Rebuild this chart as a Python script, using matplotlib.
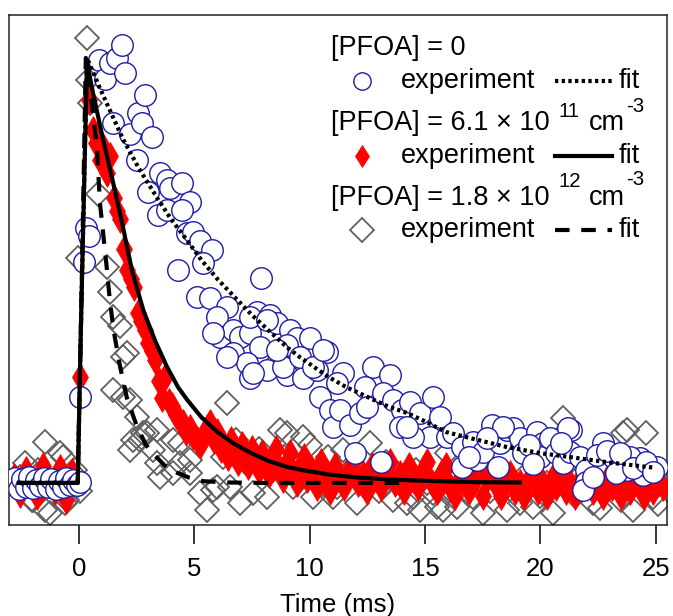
import matplotlib
matplotlib.use('Agg')
import matplotlib.pyplot as plt
from matplotlib.lines import Line2D

plt.rcParams['font.family'] = ['Liberation Sans', 'DejaVu Sans']

# [PFOA] = 0 : open circles (time in ms, signal in arb. units, peak ~100)
blue_t = [-2.75, -2.6, -2.45, -2.3, -2.15, -2.0, -1.85, -1.7, -1.5, -1.35, -1.2, -1.0, -0.85, -0.7, -0.55, -0.4, -0.25, -0.1, 0.05,
          0.04, 0.2, 0.3, 0.45,
          0.85, 1.15, 1.34, 1.65, 1.86, 2.0, 1.47, 2.2, 2.57, 2.73, 2.86, 3.16, 2.5, 3.0, 3.5, 3.8, 3.94, 4.46, 4.8, 3.44, 3.8, 4.46,
          4.7, 4.94, 5.24, 5.75, 5.4, 4.3, 7.9, 5.11, 5.68, 6.4, 5.98, 6.1, 6.7, 6.98, 7.4, 7.7, 8.28, 8.58, 7.85, 6.68, 7.28,
          9.15, 9.45, 10.0, 10.75, 9.0, 8.58, 9.45, 8.15, 7.41, 9.0, 9.7, 10.3, 11.45, 12.75, 5.8, 6.4, 7.54, 8.84, 9.58, 10.15,
          10.58, 10.45, 10.88, 11.0, 7.41, 8.15, 8.58, 11.2, 12.4, 13.5, 11.3, 11.75, 12.2, 12.5, 13.2, 13.6, 14.0, 14.35, 14.8,
          15.35, 15.65, 15.2, 15.95, 13.9, 14.5, 11.96, 13.1, 14.2, 16.2, 16.6, 16.6, 17.1, 17.25, 17.5, 17.9, 18.15, 18.25,
          18.55, 18.8, 19.1, 19.25, 19.85, 20.1, 20.0, 20.4, 20.7, 21.0, 21.35, 21.3, 21.7, 22.0, 22.0, 21.85, 22.3, 22.7, 22.45,
          23.15, 23.6, 23.75, 24.2, 24.45, 24.75, 25.05, 23.3, 24.3, 21.2, 23.9, 18.4, 16.9, 17.7, 19.5, 20.9, 22.9, 23.45, 24.0,
          24.6, 24.9, 19.7]
blue_s = [1.2, -1.5, 1.0, -1.0, 1.5, -1.2, 0.8, -0.8, 1.2, -1.0, 1.0, -1.5, 0.5, -1.0, 1.2, -0.5, 0.8, -0.5, 0.2,
          20.2, 52, 60, 58,
          99.5, 95, 98.8, 100, 103, 96.5, 84.7, 82, 87, 84.7, 91.3, 81.4, 76, 68.5, 73, 71.3, 69.4, 70.6, 66, 63, 64.2, 64.2,
          58.8, 59, 57, 54.8, 51.8, 50, 48.2, 43.8, 43.5, 41.4, 39, 34.4, 36, 34.4, 35.3, 40.2, 39.5, 37.6, 32, 30.6, 28.2,
          36, 34, 34, 30.8, 32.5, 28.2, 28.2, 26.6, 24.7, 25.4, 24.7, 26.6, 25.9, 27.3, 35.3, 29.6, 25.9, 27.3, 29.6, 27.3,
          31.3, 20.2, 17.2, 13.2, 39, 38.4, 31.3, 23.5, 22.6, 25.4, 17.2, 13.6, 16.5, 17.9, 21.2, 19.5, 17.2, 19, 16.5,
          20.2, 15.5, 10.8, 10.8, 13.2, 10.8, 7, 4.9, 13.2, 11.8, 8.5, 3.8, 9.6, 5.4, 7.3, 13.6, 3.8, 9.4,
          12.5, 12.9, 10.6, 7, 12, 9.4, 6.1, 10.6, 7, 4.7, 12.5, 7.3, 6.1, 3.1, 0.2, -1.6, 1.4, 9.4, 6.6,
          6.1, 4.9, 3.1, 4.7, 1.9, 3.5, 3.8, 2.4, 5.9, 13, 6.1, 13.2, 6, 10.5, 9, 9.5, 7.5, 7, 3.5,
          5, 2.5, 4.5]

# [PFOA] = 6.1e11 : filled red diamonds
red_t = [-2.8, -2.55, -2.3, -2.05, -1.8, -1.55, -1.3, -1.05, -0.8, -0.55, -0.3, -0.05,
         0.05, 0.45, 0.6, 0.75, 0.9, 1.05, 1.2, 1.35, 1.5, 1.65, 1.8, 1.95, 2.1, 2.25, 2.4, 2.55, 2.7, 2.85, 3.0, 3.15,
         3.3, 3.45, 3.6, 3.75, 3.9, 4.05, 4.2, 4.35, 4.5, 4.65, 4.8, 4.95, 5.1, 5.25, 5.4, 5.55, 5.7, 5.85, 6.0, 6.15,
         6.3, 6.45, 6.6, 6.75, 6.9, 7.05, 7.2, 7.35, 7.5, 7.65, 7.8, 7.95, 8.1, 8.25, 8.4, 8.55, 8.7, 8.85, 9.0, 9.15,
         9.3, 9.45, 9.6, 9.75, 9.9, 10.1, 10.3, 10.5, 10.7, 10.9, 11.1, 11.3, 11.5, 11.7, 11.9, 12.1, 12.3, 12.5, 12.7,
         12.9, 13.1, 13.3, 13.5, 13.7, 13.9, 14.1, 14.3, 14.5, 14.7, 14.9, 15.1, 15.3, 15.5, 15.7, 15.9, 16.1, 16.3,
         16.5, 16.7, 16.9, 17.1, 17.3, 17.5, 17.7, 17.9, 18.1, 18.3, 18.5, 18.7, 18.9, 19.1, 19.3, 19.5, 19.7, 19.9,
         20.1, 20.3, 20.5, 20.7, 20.9, 21.1, 21.3, 21.5, 21.7, 21.9, 22.1, 22.3, 22.5, 22.7, 22.9, 23.1, 23.3, 23.5,
         23.7, 23.9, 24.1, 24.3, 24.5, 24.7, 24.9, 25.1, 25.3]
red_s = [1.5, -2.5, 3.0, 0.5, -3.0, 4.0, 1.0, -2.0, 3.5, -4.0, 2.5, 0.0,
         25, 90, 83, 80, 76, 79, 73, 77, 67, 64, 62, 55, 50, 48, 46, 40, 38, 36, 33, 31,
         29, 24, 20, 25, 19, 18, 16, 15, 14, 12, 13, 11, 10, 9, 11, 13, 14, 10, 12, 8,
         9, 6, 10, 7, 5, 9, 6, 4, 8, 5, 3, 7, 4, 2, 6, 8, 3, 1, 5, 7,
         2, 0, 4, 6, 1, 3, -1, 5, 2, -2, 4, 1, -1, 3, 5, 0, 2, -2, 4,
         1, -1, 3, 5, 0, 2, -2, 4, 1, -1, 3, 5, 0, -2, 2, 4, -1, -3,
         1, 3, -2, 0, 2, -3, 1, 3, -1, -3, 1, 2, -2, 0, -3, 1, 2, -2,
         0, -3, 1, -1, 2, -2, 0, -3, 1, -1, 2, -2, 0, -3, 1, -1, 2, -3,
         0, -2, 1, -1, -3, 1, -2, 0, -1]

# [PFOA] = 1.8e12 : open grey diamonds
grey_t = [-2.64, -2.56, -2.34, -2.04, -2.0, -1.78, -1.47, -1.47, -1.26, -1.04, -0.82, -0.69, -0.6, -0.52, -0.17, -0.1, 0.04,
          -0.04, 0.35, 0.4, 0.48, 0.82, 1.2, 1.34, 1.47, 1.78, 1.9, 2.08, 1.47, 1.9, 2.2, 2.5, 2.34, 2.77, 2.94, 2.2, 2.64,
          3.38, 3.2, 3.38, 3.5, 4.07, 4.07, 4.38, 4.38, 4.8, 4.8, 5.24, 5.54, 5.8, 5.98, 6.4, 6.25, 6.55, 6.98, 7.54,
          8.15, 8.7, 9.0, 9.3, 9.7, 10.0, 10.15, 11.0, 11.45, 11.75, 12.05, 12.6, 12.9, 13.6, 14.2, 14.5, 14.8, 15.35,
          15.5, 15.8, 15.95, 16.1, 16.4, 17.1, 17.5, 18.55, 19.1, 19.7, 20.55, 21.0, 21.15, 22.3, 22.9, 23.75, 24.6,
          24.0, 24.9, 6.8, 7.2, 7.8, 8.4, 8.9, 9.5, 10.4, 10.8, 11.2, 12.3, 13.0, 13.3, 13.9, 14.6, 15.1, 16.6, 17.8,
          18.2, 18.9, 19.4, 20.0, 20.3, 21.5, 21.8, 22.6, 23.2, 23.5, 24.3, 25.1, 23.6]
grey_s = [0.7, 1.4, 4.7, -4, -4, 3, 9.6, -6.4, -7, -0.9, 7, 6.1, -4.7, -4, 3, 1.4, -2,
          53, 104.7, 94.8, 89.4, 68, 50.8, 45, 39, 37, 29.6, 30.6, 21.9, 20.2, 19.5, 15.5, 10, 11.8, 11.8, 7.8, 10,
          12.5, 7.8, 4.7, 1.4, 10, 2.4, 9.4, 4.7, 5.4, 2.4, -2.4, -6.4, -1.6, -0.9, 18.8, 6.1, -0.9, -4.7, -2.4,
          -3.3, 12.5, 11.8, -0.9, 10.8, 8.9, -3.3, -3.3, 7.8, 3.1, -4.7, 9.4, 2.4, -4, -4.7, -3.3, -6.4, -2.4,
          -5.6, -6.4, 7, -1.6, -5.6, -3.3, -7, -6.4, -4.7, -5.6, -7, 15.3, 12.5, -4.7, -1.6, 12.5, 11.8,
          -6.4, -3.3, 10, 5, 8, 3, 6, 4, 2, 6, -1, 0, -2, 5, 1, 3, 0, 2, -2,
          1, -1, 2, -3, 0, -3, 2, -6, 0, -4, 1, -5, 11.8]

# fit curves
fit0_t = [-2.6, -0.05, 0.1, 0.35, 0.9, 1.4, 1.9, 2.6, 3.4, 4.0, 4.7, 5.3, 6.0, 6.7, 7.5, 8.2, 9.0, 9.6, 10.8, 11.6,
          12.6, 13.4, 14.2, 15.0, 15.9, 17.0, 18.5, 20.0, 21.4, 23.0, 24.9]
fit0_s = [0, 0, 40, 100, 93, 87, 81, 74, 67, 62, 57, 52.5, 48, 44, 39.5, 36, 32, 29.5, 25, 22.5,
          20, 18, 16.5, 14.5, 12, 10.5, 8.5, 7, 6, 4.8, 3.6]
fit1_t = [-2.6, -0.05, 0.1, 0.35, 0.6, 1.0, 1.3, 1.8, 2.3, 2.8, 3.3, 3.8, 4.3, 4.7, 5.3, 6.0, 6.7, 7.4, 8.2, 9.0,
          9.7, 10.8, 12.0, 13.5, 15.0, 17.0, 19.1]
fit1_s = [0, 0, 40, 99, 92, 82, 75, 63, 50, 40.5, 33.5, 27.5, 22.5, 19.5, 15.5, 12, 9.3, 7.2, 5.2, 3.8,
          3, 2, 1.3, 0.8, 0.5, 0.2, 0.1]
fit2_t = [-2.6, -0.05, 0.1, 0.3, 0.5, 0.78, 0.91, 1.2, 1.34, 1.5, 1.78, 2.08, 2.5, 2.9, 3.2, 3.7, 4.25, 4.8, 5.4,
          6.5, 8.0, 14.0]
fit2_s = [0, 0, 40, 100, 92, 79, 66, 51, 43, 36, 27.5, 20, 13.5, 9, 7, 4.2, 2.4, 1.2, 0.4, 0.1, 0, 0]

BLUE = '#1c1ca6'
RED = '#ff0000'
GREY = '#606060'
FS = 18.5
LFS = 19.5

W, H = 673, 616
fig = plt.figure(figsize=(W / 100, H / 100), dpi=100)
ax = fig.add_axes([9 / W, 1 - 525 / H, 658 / W, 510 / H])


def px(x, y):
    return x / W, 1 - y / H


ax.plot(grey_t, grey_s, 'D', ms=12.5, mfc='none', mec=GREY, mew=1.3, ls='none', zorder=2)
ax.plot(red_t, red_s, 'd', ms=14, mfc=RED, mec=RED, mew=0.5, ls='none', zorder=3)
ax.plot(blue_t, blue_s, 'o', ms=15.5, mfc='white', mec=BLUE, mew=1.0, ls='none', zorder=4)

ax.plot(fit0_t, fit0_s, color='black', lw=3, ls=(0, (0.8, 0.8)), zorder=5)
ax.plot(fit1_t, fit1_s, color='black', lw=3, ls='-', zorder=6)
ax.plot(fit2_t, fit2_s, color='black', lw=3, ls=(0, (3.5, 2.8)), zorder=7)

ax.set_xlim(-3.03, 25.49)
ax.set_ylim(-9.9, 110.1)
ax.set_xticks([0, 5, 10, 15, 20, 25])
ax.set_yticks([])
ax.tick_params(axis='x', direction='out', length=14, width=1.1, pad=9, labelsize=FS, colors='black')
for sp in ax.spines.values():
    sp.set_linewidth(1.1)
    sp.set_color('#222222')
fig.text(px(338, 612)[0], px(338, 612)[1], 'Time (ms)', fontsize=FS, ha='center', va='baseline')

# legend drawn by hand
fig.text(*px(331, 55), '[PFOA] = 0', fontsize=LFS, va='baseline')
fig.text(*px(331, 130), '[PFOA] = 6.1 \u00d7 10', fontsize=LFS, va='baseline')
fig.text(*px(558, 117), '11', fontsize=LFS * 0.75, va='baseline')
fig.text(*px(589, 130), 'cm', fontsize=LFS, va='baseline')
fig.text(*px(626, 112), '-3', fontsize=LFS * 0.75, va='baseline')
fig.text(*px(331, 205), '[PFOA] = 1.8 \u00d7 10', fontsize=LFS, va='baseline')
fig.text(*px(558, 187), '12', fontsize=LFS * 0.75, va='baseline')
fig.text(*px(589, 205), 'cm', fontsize=LFS, va='baseline')
fig.text(*px(626, 185), '-3', fontsize=LFS * 0.75, va='baseline')

rows = [(88, 'o', dict(ms=12.5, mfc='white', mec=BLUE, mew=1.0), (0, (0.8, 0.8))),
        (163, 'd', dict(ms=11.5, mfc=RED, mec=RED, mew=0.5), '-'),
        (237, 'D', dict(ms=12, mfc='none', mec=GREY, mew=1.3), (0, (3.5, 2.8)))]
for base, mk, kw, ls in rows:
    mx, my = px(362, base - 7)
    fig.add_artist(Line2D([mx], [my], marker=mk, ls='none', transform=fig.transFigure, **kw))
    fig.text(*px(401, base), 'experiment', fontsize=LFS, va='baseline')
    x0, yl = px(555, base - 7)
    x1, _ = px(612, base - 7)
    fig.add_artist(Line2D([x0, x1], [yl, yl], color='black', lw=3, ls=ls, transform=fig.transFigure))
    fig.text(*px(619, base), 'fit', fontsize=LFS, va='baseline')

fig.savefig('out.png', dpi=100, facecolor='white')
